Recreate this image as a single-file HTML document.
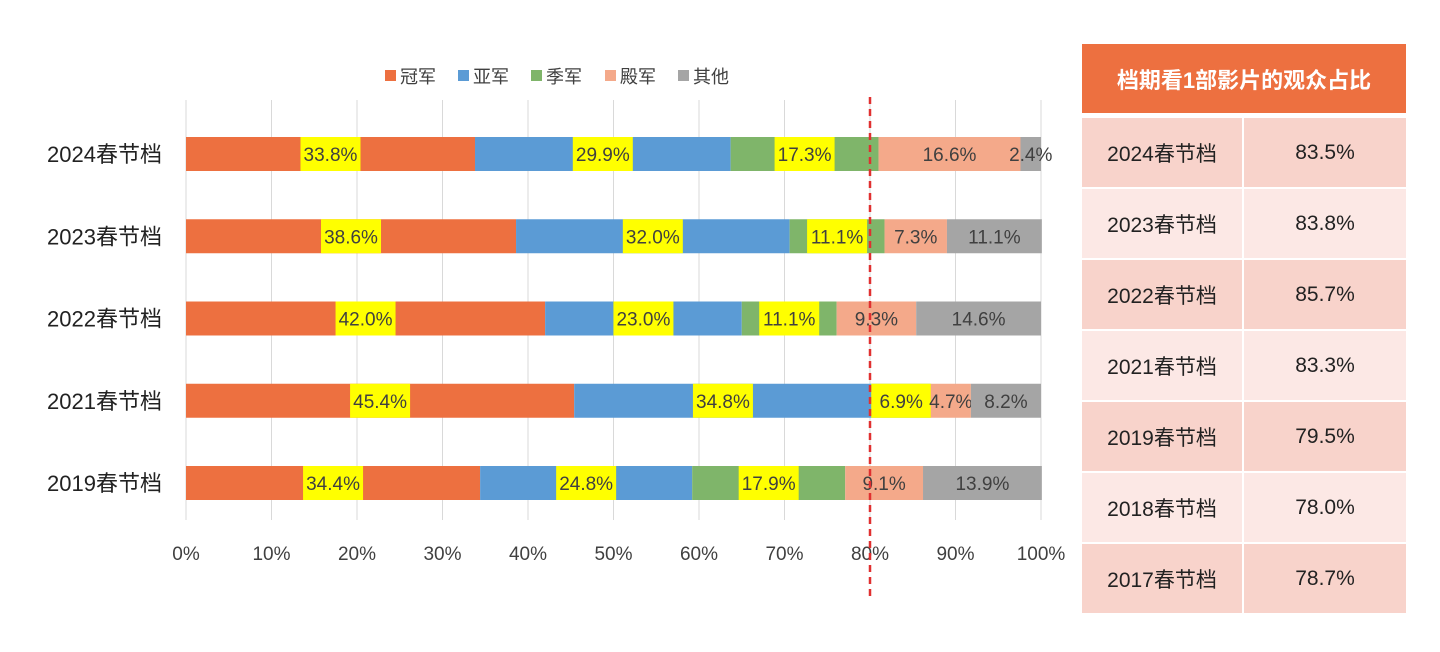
<!DOCTYPE html>
<html><head><meta charset="utf-8"><style>
body{margin:0;width:1440px;height:652px;background:#fff;overflow:hidden;font-family:"Liberation Sans","Noto Sans CJK SC",sans-serif;}
svg{position:absolute;left:0;top:0}
.tbl{position:absolute;left:1082px;top:44px;width:324px}
.hd{height:69px;background:#ed7040;color:#fff;font-size:22px;font-weight:bold;display:flex;align-items:center;justify-content:center;margin-bottom:5px}
.row{display:flex;height:69px;margin-bottom:2px}
.row div{display:flex;align-items:center;justify-content:center;font-size:21px;color:#222}
.c1{width:160px;margin-right:2px}.c2{flex:1}
.a div{background:#f8d3cb}.b div{background:#fce8e5}
</style></head><body>
<svg id="chart" width="1070" height="652"></svg>
<div class="tbl">
<div class="hd">档期看1部影片的观众占比</div>
<div class="row a"><div class="c1">2024春节档</div><div class="c2">83.5%</div></div>
<div class="row b"><div class="c1">2023春节档</div><div class="c2">83.8%</div></div>
<div class="row a"><div class="c1">2022春节档</div><div class="c2">85.7%</div></div>
<div class="row b"><div class="c1">2021春节档</div><div class="c2">83.3%</div></div>
<div class="row a"><div class="c1">2019春节档</div><div class="c2">79.5%</div></div>
<div class="row b"><div class="c1">2018春节档</div><div class="c2">78.0%</div></div>
<div class="row a"><div class="c1">2017春节档</div><div class="c2">78.7%</div></div>
</div>
<script>
const categories=["2024春节档","2023春节档","2022春节档","2021春节档","2019春节档"];
const seriesNames=["冠军","亚军","季军","殿军","其他"];
const champion=[33.8,38.6,42.0,45.4,34.4];
const runnerUp=[29.9,32.0,23.0,34.8,24.8];
const third=[17.3,11.1,11.1,6.9,17.9];
const fourth=[16.6,7.3,9.3,4.7,9.1];
const others=[2.4,11.1,14.6,8.2,13.9];
const xTicks=[0,10,20,30,40,50,60,70,80,90,100];
const refLine=80;
const series=[champion,runnerUp,third,fourth,others];
const colors=["#ed7040","#5b9bd5","#7fb56a","#f4a98a","#a5a5a5"];
const NS="http://www.w3.org/2000/svg";
const svg=document.getElementById('chart');
const x0=186,x1=1041,yTop=100,yBot=512,rowStart=154,rowGap=82.25,barH=34;
const xs=v=>x0+(x1-x0)*v/100;
const ys=i=>rowStart+i*rowGap;
function mk(t,a,p){const e=document.createElementNS(NS,t);for(const k in a)e.setAttribute(k,a[k]);(p||svg).appendChild(e);return e;}
xTicks.forEach(t=>{
 const g=mk('line',{x1:xs(t),x2:xs(t),y1:yTop,y2:yBot+8,stroke:'#d9d9d9','stroke-width':1});
 
 
 const l=mk('text',{x:xs(t),y:560,'text-anchor':'middle','font-size':19,fill:'#404040'});
 l.textContent=t+'%';
 
 
});
categories.forEach((c,i)=>{
 const y=ys(i);
 const l=mk('text',{x:162,y:y+8,'text-anchor':'end','font-size':22,fill:'#222'});
 l.textContent=c;
 
 
 let cum=0;
 series.forEach((s,k)=>{
  const v=s[i];
  const r=mk('rect',{x:xs(cum),y:y-barH/2,width:xs(cum+v)-xs(cum),height:barH,fill:colors[k]});
  
  
  const cx=(xs(cum)+xs(cum+v))/2;
  const txt=v.toFixed(1)+'%';
  if(k<3){
   const bg=mk('rect',{x:cx-30,y:y-barH/2,width:60,height:barH,fill:'#ffff00'});
   
   
  }
  const t=mk('text',{x:cx,y:y+7,'text-anchor':'middle','font-size':19,fill:'#404040'});
  t.textContent=txt;
  
  
  cum+=v;
 });
});
const rl=mk('line',{x1:xs(refLine),x2:xs(refLine),y1:97,y2:596,stroke:'#e03030','stroke-width':2.5,'stroke-dasharray':'7,5'});


const lx=[385,458,531,605,678];
seriesNames.forEach((n,k)=>{
 const r=mk('rect',{x:lx[k],y:70,width:11,height:11,fill:colors[k]});
 
 
 const t=mk('text',{x:lx[k]+15,y:83,'font-size':18,fill:'#404040'});
 t.textContent=n;
 
 
});
</script>
</body></html>
